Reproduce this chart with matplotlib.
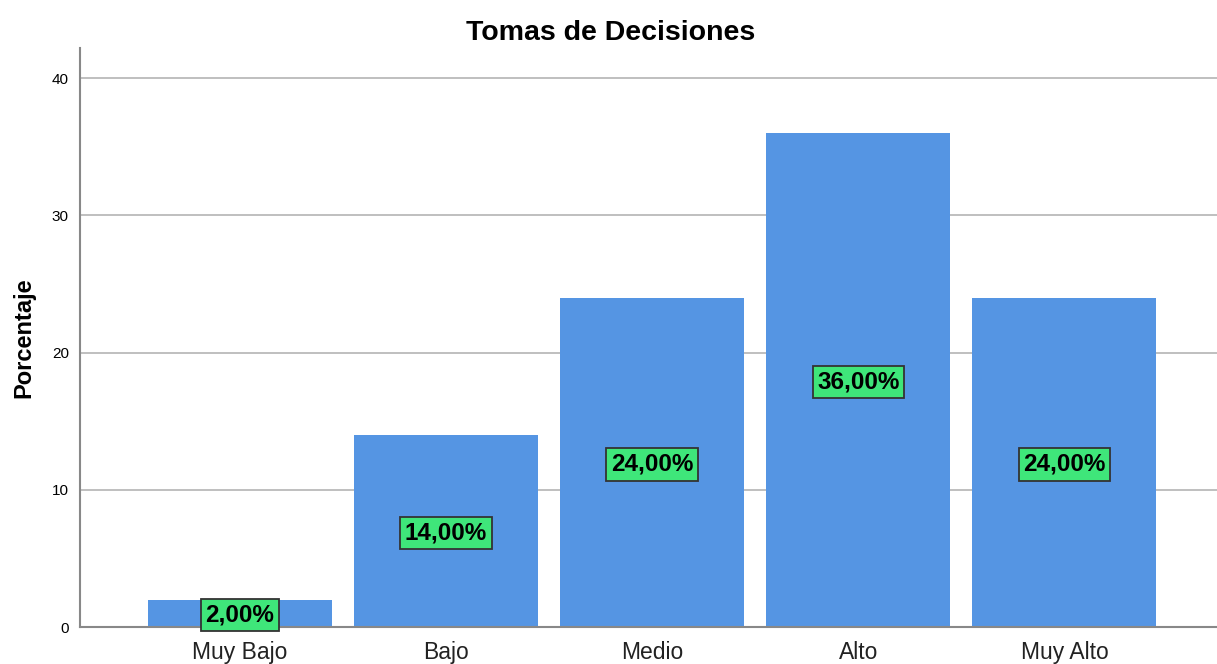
import matplotlib
matplotlib.use("Agg")
import matplotlib.pyplot as plt

plt.rcParams['font.family'] = ['Liberation Sans', 'DejaVu Sans']

categorias = ["Muy Bajo", "Bajo", "Medio", "Alto", "Muy Alto"]
porcentajes = [2.0, 14.0, 24.0, 36.0, 24.0]
etiquetas = ["2,00%", "14,00%", "24,00%", "36,00%", "24,00%"]

fig = plt.figure(figsize=(12.17, 6.64), dpi=100)
ax = fig.add_axes([0.0657, 0.0557, 0.9343, 0.872])

x = range(len(categorias))
ax.bar(x, porcentajes, width=0.893, color="#5595E3", zorder=2)

# etiquetas de porcentaje en el centro de cada barra
for xi, v, t in zip(x, porcentajes, etiquetas):
    ax.text(xi, v / 2 - 0.15, t, ha="center", va="center", fontsize=17.5, fontweight="bold",
            color="black", zorder=3,
            bbox=dict(boxstyle="square,pad=0.19", facecolor="#3FE67A", edgecolor="#333333", linewidth=1.3))

ax.set_xlim(-0.776, 4.74)
ax.set_ylim(0, 42.2)
ax.set_yticks([0, 10, 20, 30, 40])
ax.set_xticks(list(x))
ax.set_xticklabels(categorias, fontsize=16.5, color="#222222")
ax.tick_params(axis="y", labelsize=11, length=0, pad=8)
ax.tick_params(axis="x", length=0, pad=10)
ax.yaxis.grid(True, color="#b4b4b4", linewidth=1.2, zorder=0)

for s in ["top", "right"]:
    ax.spines[s].set_visible(False)
for s in ["left", "bottom"]:
    ax.spines[s].set_color("#888888")
    ax.spines[s].set_linewidth(1.5)

ax.set_ylabel("Porcentaje", fontsize=17, fontweight="bold", labelpad=12)
fig.text(0.502, 0.951, "Tomas de Decisiones", ha="center", va="center", fontsize=20.5, fontweight="bold")

fig.savefig("out.png", dpi=100)
